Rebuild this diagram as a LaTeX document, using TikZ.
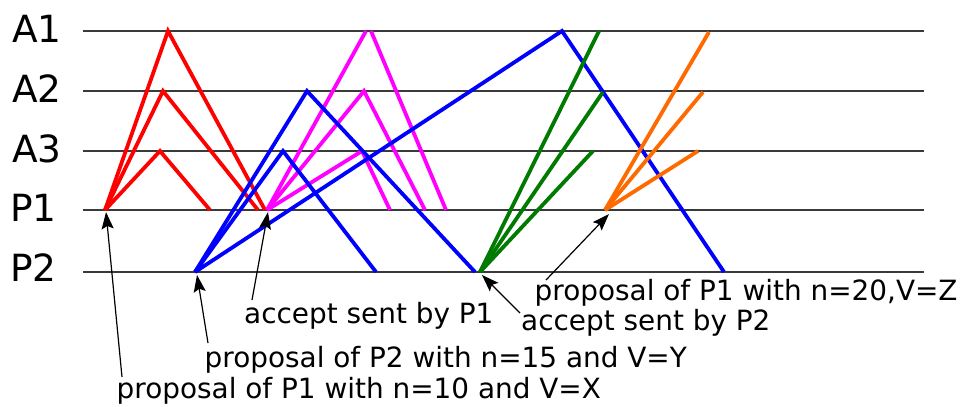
\documentclass[tikz,border=0pt]{standalone}
\usepackage{fontspec}
\setmainfont{DejaVu Sans}
\usetikzlibrary{arrows.meta}

\definecolor{lanegray}{HTML}{3A3A3A}
\definecolor{msgred}{HTML}{FF0000}
\definecolor{msgmagenta}{HTML}{FF00FF}
\definecolor{msgblue}{HTML}{0000FF}
\definecolor{msggreen}{HTML}{007A00}
\definecolor{msgorange}{HTML}{FF6A00}

\tikzset{
  lane/.style={draw=lanegray, line width=1.8bp},
  lanelabel/.style={inner sep=0pt, anchor=base west, font=\fontsize{37.6}{44}\selectfont},
  note/.style={inner sep=0pt, anchor=base west, font=\fontsize{28.0}{33}\selectfont},
  msg/.style={line width=3.8bp, line join=miter},
  pointer/.style={draw=black, line width=1.2bp, -{Stealth[length=17bp,width=12bp,inset=3bp]}},
}

\begin{document}
\begin{tikzpicture}[x=1bp, y=-1bp]
  \useasboundingbox (0,0) rectangle (973,406);

  % process / acceptor timelines
  \node[lanelabel] (lA1) at (12,42) {A1};
  \node[lanelabel] (lA2) at (12,102) {A2};
  \node[lanelabel] (lA3) at (12,162) {A3};
  \node[lanelabel] (lP1) at (10,221) {P1};
  \node[lanelabel] (lP2) at (10,281) {P2};

  \foreach \n/\y in {A1/31, A2/91, A3/151, P1/210, P2/272} {
    \coordinate (s\n) at (83,\y);
    \coordinate (e\n) at (924,\y);
    \draw[lane] (s\n) -- (e\n);
  }

  % message endpoints
  \coordinate (r0) at (105,210);
  \coordinate (r1) at (168,31);  \coordinate (r1e) at (265,210);
  \coordinate (r2) at (163,91);  \coordinate (r2e) at (258,210);
  \coordinate (r3) at (160,151); \coordinate (r3e) at (210,210);

  \coordinate (m0) at (267,210);
  \coordinate (m1a) at (366,31); \coordinate (m1b) at (371,31); \coordinate (m1e) at (446,210);
  \coordinate (m2) at (364,91);  \coordinate (m2e) at (425,210);
  \coordinate (m3) at (362,151); \coordinate (m3e) at (390,210);

  \coordinate (b0) at (195,272);
  \coordinate (b1) at (562,31);  \coordinate (b1e) at (724,272);
  \coordinate (b2) at (307,91);  \coordinate (b2e) at (475,272);
  \coordinate (b3) at (283,151); \coordinate (b3e) at (376,272);

  \coordinate (g0) at (480,272);
  \coordinate (g1) at (599,31);
  \coordinate (g2) at (603,92);
  \coordinate (g3) at (593,151);

  \coordinate (o0) at (605,210);
  \coordinate (o1) at (709,32);
  \coordinate (o2) at (703,92);
  \coordinate (o3) at (698,151);

  % round 1: P1 prepares
  \draw[msg, msgred] (r0) -- (r1) -- (r1e);
  \draw[msg, msgred] (r0) -- (r2) -- (r2e);
  \draw[msg, msgred] (r0) -- (r3) -- (r3e);

  % P1 accept
  \draw[msg, msgmagenta] (m0) -- (m1a);
  \draw[msg, msgmagenta] (m1b) -- (m1e);
  \draw[msg, msgmagenta] (m0) -- (m2) -- (m2e);
  \draw[msg, msgmagenta] (m0) -- (m3) -- (m3e);

  % round 2: P2 prepares
  \draw[msg, msgblue] (b0) -- (b1) -- (b1e);
  \draw[msg, msgblue] (b0) -- (b2) -- (b2e);
  \draw[msg, msgblue] (b0) -- (b3) -- (b3e);

  % P2 accept
  \draw[msg, msggreen] (g0) -- (g1);
  \draw[msg, msggreen] (g0) -- (g2);
  \draw[msg, msggreen] (g0) -- (g3);

  % round 3: P1 prepares again
  \draw[msg, msgorange] (o0) -- (o1);
  \draw[msg, msgorange] (o0) -- (o2);
  \draw[msg, msgorange] (o0) -- (o3);

  % annotations
  \node[note] (n10) at (116.5,398) {proposal of P1 with n=10 and V=X};
  \node[note] (n15) at (204.5,367) {proposal of P2 with n=15 and V=Y};
  \node[note] (acc1) at (244,323) {accept sent by P1};
  \node[note] (acc2) at (521,330) {accept sent by P2};
  \node[note] (n20) at (534.5,300) {proposal of P1 with n=20,V=Z};

  \coordinate (t10) at (122,377);  \coordinate (h10) at (106,212);
  \coordinate (t15) at (208,343);  \coordinate (h15) at (197,275);
  \coordinate (ta1) at (252,300);  \coordinate (ha1) at (268,212);
  \coordinate (ta2) at (520,313);  \coordinate (ha2) at (482,275);
  \coordinate (t20) at (546,280);  \coordinate (h20) at (609,214);

  \draw[pointer] (t10) -- (h10);
  \draw[pointer] (t15) -- (h15);
  \draw[pointer] (ta1) -- (ha1);
  \draw[pointer] (ta2) -- (ha2);
  \draw[pointer] (t20) -- (h20);
\end{tikzpicture}
\end{document}
